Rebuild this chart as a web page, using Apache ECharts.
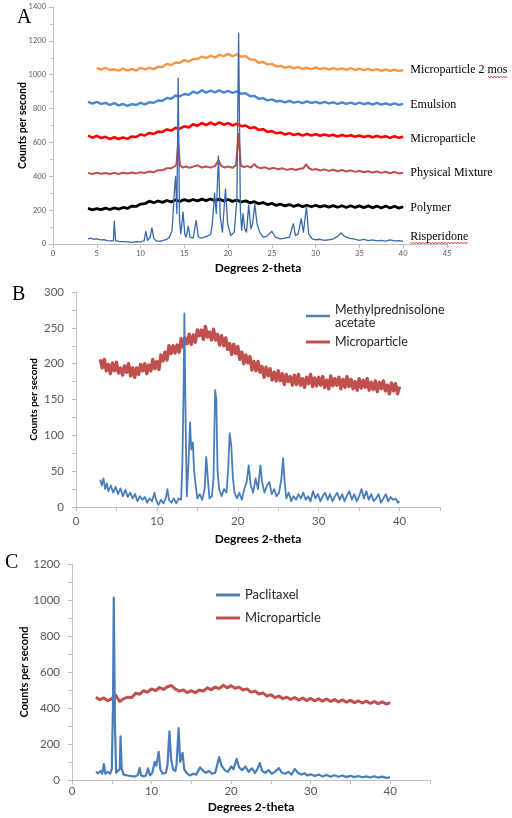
<!DOCTYPE html>
<html><head><meta charset="utf-8">
<script src="https://cdn.jsdelivr.net/npm/echarts@6.0.0/dist/echarts.min.js"></script>
<style>html,body{margin:0;padding:0;background:#fff}#c{width:512px;height:818px}</style>
</head><body><div id="c"></div>
<script>
// ---------- Panel A (values: [2-theta, counts]) ----------
const namesA = ['Microparticle 2 mos','Emulsion','Microparticle','Physical Mixture','Polymer','Risperidone'];
const mp2mosA = [[5,1040],[5.5,1030],[6,1040],[6.5,1028],[7,1032],[7.5,1024],[8,1036],[8.5,1025],[9,1033],[9.5,1025],[10,1041],[10.5,1032],[11,1040],[11.5,1033],[12,1047],[12.5,1045],[13,1064],[13.5,1057],[14,1072],[14.5,1071],[15,1086],[15.5,1078],[16,1093],[16.5,1093],[17,1107],[17.5,1099],[18,1112],[18.5,1102],[19,1117],[19.5,1110],[20,1123],[20.5,1109],[21,1121],[21.5,1106],[22,1110],[22.5,1090],[23,1089],[23.5,1071],[24,1075],[24.5,1061],[25,1064],[25.5,1048],[26,1052],[26.5,1041],[27,1048],[27.5,1038],[28,1045],[28.5,1034],[29,1041],[29.5,1033],[30,1043],[30.5,1033],[31,1040],[31.5,1030],[32,1039],[32.5,1030],[33,1037],[33.5,1028],[34,1039],[34.5,1029],[35,1036],[35.5,1027],[36,1035],[36.5,1026],[37,1033],[37.5,1023],[38,1032],[38.5,1023],[39,1030],[39.5,1021],[40,1027]];
const emulsionA = [[4,840],[4.5,829],[5,839],[5.5,828],[6,834],[6.5,821],[7,832],[7.5,819],[8,827],[8.5,816],[9,826],[9.5,821],[10,834],[10.5,825],[11,837],[11.5,834],[12,848],[12.5,846],[13,863],[13.5,858],[14,877],[14.5,873],[15,886],[15.5,882],[16,900],[16.5,891],[17,908],[17.5,894],[18,906],[18.5,896],[19,908],[19.5,894],[20,904],[20.5,893],[21,902],[21.5,887],[22,891],[22.5,873],[23,875],[23.5,858],[24,862],[24.5,848],[25,854],[25.5,842],[26,846],[26.5,836],[27,845],[27.5,835],[28,841],[28.5,832],[29,843],[29.5,833],[30,840],[30.5,831],[31,839],[31.5,831],[32,837],[32.5,827],[33,837],[33.5,828],[34,835],[34.5,826],[35,835],[35.5,826],[36,833],[36.5,823],[37,833],[37.5,824],[38,831],[38.5,822],[39,831],[39.5,822],[40,828]];
const microA = [[4,640],[4.5,628],[5,639],[5.5,626],[6,633],[6.5,620],[7,631],[7.5,620],[8,629],[8.5,621],[9,635],[9.5,632],[10,647],[10.5,641],[11,656],[11.5,650],[12,664],[12.5,662],[13,677],[13.5,670],[14,686],[14.5,681],[15,695],[15.5,689],[16,707],[16.5,699],[17,714],[17.5,703],[18,717],[18.5,704],[19,718],[19.5,705],[20,714],[20.5,700],[21,710],[21.5,696],[22,700],[22.5,684],[23,690],[23.5,674],[24,678],[24.5,662],[25,667],[25.5,654],[26,659],[26.5,647],[27,655],[27.5,644],[28,651],[28.5,641],[29,650],[29.5,641],[30,649],[30.5,639],[31,647],[31.5,639],[32,645],[32.5,635],[33,644],[33.5,636],[34,642],[34.5,633],[35,641],[35.5,632],[36,639],[36.5,630],[37,638],[37.5,630],[38,636],[38.5,627],[39,636],[39.5,627],[40,633]];
const physMixA = [[4,420],[4.5,414],[5,421],[5.5,415],[6,419],[6.5,413],[7,420],[7.5,414],[8,421],[8.5,416],[9,422],[9.5,417],[10,424],[10.5,420],[11,428],[11.5,424],[12,436],[12.5,435],[13,448],[13.5,447],[13.9,458],[14.1,470],[14.3,600],[14.5,465],[14.8,452],[15.2,458],[15.6,450],[16,457],[16.5,465],[17,452],[17.5,458],[18,451],[18.5,460],[18.9,495],[19.2,462],[19.6,452],[20,458],[20.5,450],[20.9,465],[21.2,650],[21.45,462],[21.8,455],[22.2,460],[22.6,452],[23.0,472],[23.3,455],[23.7,448],[24.2,453],[24.7,443],[25.2,450],[25.7,441],[26.2,447],[26.7,438],[27.2,445],[27.7,437],[28.2,444],[28.6,448],[28.9,470],[29.2,450],[29.6,438],[30,443],[30.5,434],[31,441],[31.5,432],[32,439],[32.5,430],[33,437],[33.5,428],[34,435],[34.5,426],[35,433],[35.5,424],[36,430],[36.5,422],[37,428],[37.5,420],[38,427],[38.5,418],[39,425],[39.5,417],[40,421]];
const polymerA = [[4,210],[4.5,202],[5,209],[5.5,203],[6,212],[6.5,204],[7,213],[7.5,206],[8,216],[8.5,210],[9,224],[9.5,222],[10,236],[10.5,238],[11,253],[11.5,244],[12,254],[12.5,246],[13,257],[13.5,249],[14,260],[14.5,252],[15,262],[15.5,253],[16,263],[16.5,255],[17,265],[17.5,256],[18,266],[18.5,255],[19,265],[19.5,254],[20,263],[20.5,252],[21,260],[21.5,248],[22,255],[22.5,243],[23,250],[23.5,238],[24,245],[24.5,233],[25,240],[25.5,228],[26,235],[26.5,225],[27,233],[27.5,222],[28,231],[28.5,221],[29,229],[29.5,220],[30,229],[30.5,219],[31,227],[31.5,218],[32,227],[32.5,217],[33,226],[33.5,216],[34,226],[34.5,216],[35,225],[35.5,215],[36,225],[36.5,214],[37,224],[37.5,213],[38,224],[38.5,213],[39,223],[39.5,212],[40,220]];
const risperidoneA = [[4,30],[4.3,35],[4.6,28],[5,30],[5.4,24],[5.8,26],[6.2,20],[6.6,18],[6.9,20],[7.0,135],[7.15,20],[7.5,15],[8,14],[8.5,12],[9,10],[9.5,14],[10,12],[10.4,18],[10.6,75],[10.8,22],[11.1,40],[11.3,95],[11.5,35],[11.8,18],[12.2,15],[12.6,22],[13,28],[13.3,40],[13.6,80],[13.85,300],[14.0,400],[14.15,180],[14.3,980],[14.45,140],[14.6,60],[14.85,190],[15.05,60],[15.2,40],[15.45,105],[15.65,40],[16.0,35],[16.35,140],[16.6,40],[17.0,35],[17.5,45],[18.0,55],[18.2,120],[18.45,300],[18.65,180],[18.9,520],[19.1,160],[19.35,70],[19.7,325],[19.95,120],[20.3,50],[20.7,70],[21.0,260],[21.2,1245],[21.4,200],[21.55,80],[21.7,180],[21.9,90],[22.1,70],[22.35,230],[22.6,90],[22.8,120],[23.05,235],[23.3,120],[23.6,70],[24.0,40],[24.4,45],[25.0,75],[25.4,40],[26,30],[26.5,35],[27.0,40],[27.45,120],[27.7,50],[28.0,60],[28.35,150],[28.6,70],[28.95,220],[29.2,60],[29.6,30],[30,25],[30.5,28],[31,22],[31.5,25],[32,30],[32.5,45],[32.9,65],[33.3,45],[33.8,35],[34.3,30],[35,22],[35.5,28],[36,20],[36.5,24],[37,18],[37.5,22],[38,17],[38.5,24],[39,18],[39.5,20],[40,15]];

// ---------- Panel B ----------
const namesB = ['Methylprednisolone\nacetate','Microparticle '];
const mpaB = [[3,38],[3.2,30],[3.4,40],[3.6,25],[3.8,33],[4,22],[4.3,30],[4.6,20],[4.9,28],[5.2,18],[5.5,26],[5.8,15],[6.1,24],[6.4,14],[6.7,20],[7,12],[7.3,18],[7.6,8],[7.9,15],[8.2,10],[8.5,14],[8.8,6],[9.1,12],[9.4,8],[9.7,20],[9.9,10],[10.2,3],[10.5,10],[10.8,5],[11.1,12],[11.3,25],[11.5,10],[11.8,6],[12.1,12],[12.4,5],[12.7,12],[13.0,10],[13.15,60],[13.3,165],[13.4,270],[13.55,120],[13.7,15],[13.9,60],[14.1,118],[14.25,80],[14.45,90],[14.6,50],[14.8,30],[15.0,12],[15.3,18],[15.6,10],[15.9,25],[16.1,70],[16.3,40],[16.5,12],[16.8,15],[17.0,40],[17.2,163],[17.35,150],[17.5,50],[17.7,25],[18.0,15],[18.3,25],[18.6,20],[18.8,50],[19.0,103],[19.2,85],[19.4,40],[19.6,20],[19.9,12],[20.2,20],[20.5,10],[20.8,25],[21.1,35],[21.35,58],[21.6,30],[21.9,20],[22.2,40],[22.5,25],[22.8,58],[23.0,35],[23.3,20],[23.6,30],[23.9,35],[24.2,18],[24.5,25],[24.8,15],[25.1,20],[25.4,40],[25.6,68],[25.8,35],[26.0,12],[26.3,20],[26.6,8],[26.9,15],[27.2,10],[27.5,18],[27.8,12],[28.1,20],[28.4,10],[28.7,15],[29.0,8],[29.3,22],[29.6,12],[29.9,18],[30.2,8],[30.5,15],[30.8,20],[31.1,10],[31.4,18],[31.7,8],[32.0,15],[32.3,20],[32.6,10],[32.9,18],[33.2,8],[33.5,16],[33.8,22],[34.1,10],[34.4,18],[34.7,8],[35.0,15],[35.3,25],[35.6,12],[35.9,22],[36.2,10],[36.5,18],[36.8,8],[37.1,12],[37.4,18],[37.7,6],[38.0,12],[38.3,18],[38.6,8],[38.9,14],[39.2,10],[39.5,12],[39.8,6],[40,8]];
const microB = [[3,206],[3.25,194],[3.5,206],[3.75,190],[4,199],[4.25,186],[4.5,201],[4.75,190],[5,202],[5.25,187],[5.5,194],[5.75,184],[6,197],[6.25,188],[6.5,200],[6.75,183],[7,194],[7.25,181],[7.5,194],[7.75,185],[8,199],[8.25,190],[8.5,200],[8.75,186],[9,198],[9.25,190],[9.5,206],[9.75,193],[10,203],[10.25,192],[10.5,212],[10.75,204],[11,216],[11.25,205],[11.5,225],[11.75,214],[12,225],[12.25,215],[12.5,226],[12.75,216],[13,235],[13.25,223],[13.5,236],[13.75,228],[14,241],[14.25,227],[14.5,240],[14.75,230],[15,247],[15.25,239],[15.5,247],[15.75,234],[16,252],[16.25,237],[16.5,244],[16.75,233],[17,248],[17.25,233],[17.5,241],[17.75,226],[18,239],[18.25,225],[18.5,236],[18.75,220],[19,228],[19.25,213],[19.5,227],[19.75,214],[20,224],[20.25,206],[20.5,216],[20.75,200],[21,212],[21.25,201],[21.5,210],[21.75,191],[22,203],[22.25,190],[22.5,203],[22.75,188],[23,196],[23.25,181],[23.5,195],[23.75,183],[24,193],[24.25,177],[24.5,188],[24.75,176],[25,190],[25.25,176],[25.5,186],[25.75,171],[26,185],[26.25,175],[26.5,182],[26.75,170],[27,184],[27.25,171],[27.5,185],[27.75,170],[28,179],[28.25,167],[28.5,181],[28.75,172],[29,185],[29.25,168],[29.5,180],[29.75,169],[30,181],[30.25,170],[30.5,182],[30.75,167],[31,177],[31.25,165],[31.5,183],[31.75,169],[32,179],[32.25,170],[32.5,181],[32.75,165],[33,178],[33.25,167],[33.5,182],[33.75,168],[34,178],[34.25,165],[34.5,175],[34.75,163],[35,179],[35.25,166],[35.5,177],[35.75,167],[36,179],[36.25,163],[36.5,174],[36.75,164],[37,176],[37.25,161],[37.5,174],[37.75,165],[38,176],[38.25,162],[38.5,170],[38.75,158],[39,173],[39.25,162],[39.5,172],[39.75,158],[40,168]];

// ---------- Panel C ----------
const namesC = ['Paclitaxel','Microparticle  '];
const paclitaxelC = [[3,45],[3.3,38],[3.6,50],[3.8,35],[4.0,88],[4.2,35],[4.5,45],[4.8,35],[5.0,60],[5.15,400],[5.25,1013],[5.4,300],[5.55,40],[5.8,30],[6.0,60],[6.1,243],[6.25,60],[6.5,30],[7,25],[7.5,22],[8,20],[8.3,30],[8.5,66],[8.7,25],[9,20],[9.3,25],[9.55,65],[9.8,25],[10.1,40],[10.4,101],[10.6,80],[10.9,156],[11.1,60],[11.4,35],[11.8,40],[12.0,80],[12.25,270],[12.45,120],[12.7,60],[13.0,50],[13.15,90],[13.4,289],[13.6,100],[13.9,151],[14.1,60],[14.4,40],[14.8,25],[15.2,35],[15.6,30],[16.1,70],[16.4,55],[16.8,40],[17.2,50],[17.6,35],[18.0,40],[18.5,127],[18.8,80],[19.2,55],[19.6,45],[20.0,75],[20.3,60],[20.7,118],[21.0,70],[21.4,55],[21.8,75],[22.2,45],[22.6,65],[23.0,40],[23.3,60],[23.6,94],[23.9,50],[24.3,40],[24.7,55],[25.1,35],[25.5,45],[26.0,66],[26.4,40],[26.8,35],[27.2,45],[27.6,30],[28.0,61],[28.4,40],[28.8,30],[29.2,38],[29.6,25],[30,32],[30.5,22],[31,30],[31.5,20],[32,28],[32.5,18],[33,26],[33.5,18],[34,25],[34.5,16],[35,24],[35.5,16],[36,22],[36.5,15],[37,20],[37.5,14],[38,21],[38.5,13],[39,19],[39.5,12],[40,15]];
const microC = [[3,460],[3.5,446],[4,456],[4.5,440],[5,452],[5.5,470],[6,436],[6.5,452],[7,460],[7.5,458],[8,482],[8.5,476],[9,496],[9.5,488],[10,506],[10.5,496],[11,514],[11.5,503],[12,518],[12.5,525],[13,505],[13.5,494],[14,500],[14.5,486],[15,496],[15.5,485],[16,500],[16.5,494],[17,512],[17.5,502],[18,516],[18.5,508],[19,526],[19.5,512],[20,524],[20.5,510],[21,516],[21.5,500],[22,506],[22.5,488],[23,494],[23.5,478],[24,484],[24.5,466],[25,474],[25.5,458],[26,466],[26.5,452],[27,460],[27.5,448],[28,458],[28.5,444],[29,455],[29.5,442],[30,453],[30.5,440],[31,451],[31.5,438],[32,450],[32.5,437],[33,447],[33.5,434],[34,445],[34.5,432],[35,442],[35.5,430],[36,440],[36.5,428],[37,438],[37.5,426],[38,436],[38.5,424],[39,434],[39.5,422],[40,430]];

// axis ranges / ticks
const axisA = {xMax:45, xStep:5, yMax:1400, yStep:200};
const axisB = {xMax:45, xStep:5, yMax:300, yStep:50};
const axisC = {xMax:45, xStep:5, yMax:1200, yStep:200};

const SANS = 'Lato';
const SERIF = '"Liberation Serif"';
const AX = '#bfbfbf';
const LBL = '#595959';

function xAx(grid, ax, o){
  return {
    gridIndex: grid, type:'value', min:0, max:ax.xMax, interval:ax.xStep,
    axisLine:{show:true, onZero:false, lineStyle:{color:AX, width:1}},
    axisTick:{show:true, length:4, lineStyle:{color:AX}},
    splitLine:{show:false},
    axisLabel:{fontFamily:SANS, fontSize:o.fs, color:LBL, margin:o.margin,
      formatter: o.every10 ? (v)=> (v % 10 === 0 ? String(v) : '') : (v)=>String(v)},
    name:'Degrees 2-theta', nameLocation:'middle', nameGap:o.nameGap, nameMoveOverlap:false,
    nameTextStyle:{fontFamily:SANS, fontWeight:'bold', fontSize:12, color:'#000', padding:o.namePad||0}
  };
}
function yAx(grid, ax, o){
  return {
    gridIndex: grid, type:'value', min:0, max:ax.yMax, interval:ax.yStep,
    axisLine:{show:true, lineStyle:{color:AX, width:1}},
    axisTick:{show:true, length:4, lineStyle:{color:AX}},
    minorTick:{show:true, splitNumber:2, length:o.mt||4, lineStyle:{color:AX}},
    splitLine:{show:false},
    axisLabel:{fontFamily:SANS, fontSize:o.fs, color:LBL, margin:o.margin, formatter:(v)=>String(v)},
    name:'Counts per second', nameLocation:'middle', nameGap:o.nameGap, nameMoveOverlap:false,
    nameTextStyle:{fontFamily:SANS, fontWeight:'bold', fontSize:o.nfs, color:'#000'}
  };
}

function lineSeries(name, data, xi, color, width, extra){
  return Object.assign({
    name, type:'line', data, xAxisIndex:xi, yAxisIndex:xi,
    showSymbol:false, symbol:'none', smooth:false, silent:true,
    lineStyle:{color, width, join:'round'}, itemStyle:{color},
    z: 2
  }, extra||{});
}
function endLbl(dy){
  return {endLabel:{show:true, formatter:'{a}', color:'#000', fontFamily:SERIF, fontSize:12, distance:7, offset:[0,dy]}};
}

// wavy underline decoration
function wavy(x0, x1, y){
  const pts=[]; let up=true;
  for(let x=x0; x<=x1; x+=1.6){ pts.push([x, y+(up?-1:1)]); up=!up; }
  return {type:'polyline', shape:{points:pts}, style:{stroke:'#e04040', lineWidth:0.9, fill:null}, z:100};
}

const chart = echarts.init(document.getElementById('c'), null, {renderer:'canvas'});
chart.setOption({
  animation:false,
  backgroundColor:'#fff',
  grid:[
    {left:53, right:65, top:7, bottom:574, outerBoundsMode:'none'},
    {left:76, right:72, top:292, bottom:311, outerBoundsMode:'none'},
    {left:72, right:82, top:564, bottom:38, outerBoundsMode:'none'}
  ],
  xAxis:[
    xAx(0, axisA, {fs:7.5, margin:6, nameGap:18, namePad:[0,0,0,16]}),
    xAx(1, axisB, {fs:11.5, margin:8, nameGap:26, every10:true}),
    xAx(2, axisC, {fs:11.5, margin:5, nameGap:21, every10:true})
  ],
  yAxis:[
    yAx(0, axisA, {fs:7.5, margin:7, nameGap:25, nfs:10.5, mt:3}),
    yAx(1, axisB, {fs:11.5, margin:12, nameGap:37, nfs:10}),
    yAx(2, axisC, {fs:11.5, margin:12, nameGap:42, nfs:11})
  ],
  legend:[
    {data:[namesB[0]], orient:'vertical', left:306, top:296.5, padding:0, itemWidth:24, itemHeight:2.5, icon:'rect',
     textStyle:{fontFamily:SANS, fontSize:12.5, color:'#262626', lineHeight:13, padding:[13,0,0,0]}, selectedMode:false},
    {data:[namesB[1]], orient:'vertical', left:306, top:335.5, padding:0, itemWidth:24, itemHeight:3, icon:'rect',
     textStyle:{fontFamily:SANS, fontSize:12.5, color:'#262626', lineHeight:13}, selectedMode:false},
    {data:namesC, orient:'vertical', left:216, top:588, padding:0, itemWidth:24, itemHeight:3, itemGap:9, icon:'rect',
     textStyle:{fontFamily:SANS, fontSize:13, color:'#262626', lineHeight:14}, selectedMode:false}
  ],
  series:[
    lineSeries(namesA[0], mp2mosA, 0, '#f79646', 2.4, endLbl(0)),
    lineSeries(namesA[1], emulsionA, 0, '#4a86d2', 2.4, endLbl(1)),
    lineSeries(namesA[2], microA, 0, '#ff0000', 2.6, endLbl(2)),
    lineSeries(namesA[3], physMixA, 0, '#c0504d', 2, endLbl(0)),
    lineSeries(namesA[4], polymerA, 0, '#000000', 2.8, endLbl(1)),
    lineSeries(namesA[5], risperidoneA, 0, '#3a68ad', 1.3, endLbl(-5)),
    lineSeries(namesB[1], microB, 1, '#c0504d', 3.4),
    lineSeries(namesB[0], mpaB, 1, '#4a7ebb', 1.8),
    lineSeries(namesC[1], microC, 2, '#c0504d', 3),
    lineSeries(namesC[0], paclitaxelC, 2, '#4a7ebb', 2.2)
  ],
  graphic:[
    {type:'text', left:17, top:8, style:{text:'A', font:'20px "Liberation Serif"', fill:'#000'}},
    {type:'text', left:12, top:285, style:{text:'B', font:'20px "Liberation Serif"', fill:'#000'}},
    {type:'text', left:5, top:553, style:{text:'C', font:'20px "Liberation Serif"', fill:'#000'}},
    wavy(488, 508, 77),
    wavy(410, 468, 243)
  ]
});
</script></body></html>
